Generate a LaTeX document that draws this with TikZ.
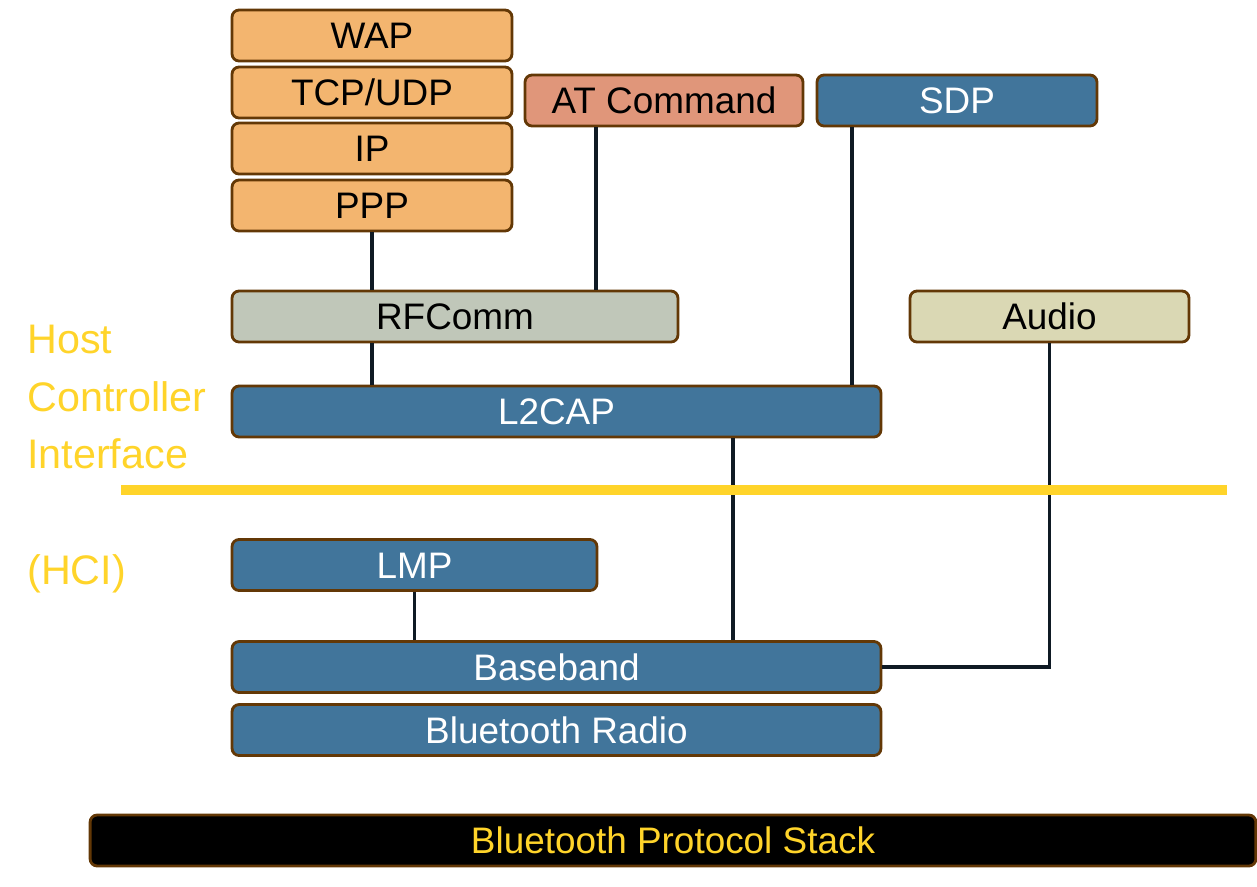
\documentclass[tikz,border=0pt]{standalone}
\usepackage{fontspec}
\setmainfont{Liberation Sans}
\definecolor{wapcol}{RGB}{243,181,111}
\definecolor{atcol}{RGB}{224,150,122}
\definecolor{bluecol}{RGB}{65,117,155}
\definecolor{rfcol}{RGB}{192,199,185}
\definecolor{audiocol}{RGB}{218,216,180}
\definecolor{layerborder}{RGB}{99,56,6}
\definecolor{linkcolor}{RGB}{15,26,36}
\definecolor{hciyellow}{RGB}{255,212,42}
\begin{document}
\begin{tikzpicture}[x=0.02cm, y=-0.02cm,
    every node/.style={font=\fontsize{21}{25}\selectfont},
    layer/.style={draw=layerborder, line width=1.6pt, rounded corners=4pt,
      minimum height=1.02cm, inner sep=0pt, text height=0.53cm, text depth=0pt},
    link/.style={draw=linkcolor, line width=2.2pt},
    sidelabel/.style={anchor=base west, inner sep=0pt, text=hciyellow, font=\fontsize{23.5}{28}\selectfont}]

        \useasboundingbox (0,0) rectangle (1257,886);

        % Upper stack
        \node[layer, fill=wapcol, minimum width=5.6cm] (wap) at (372,35.5) {WAP};
        \node[layer, fill=wapcol, minimum width=5.6cm] (tcpudp) at (372,92.5) {TCP/UDP};
        \node[layer, fill=wapcol, minimum width=5.6cm] (ip) at (372,148.5) {IP};
        \node[layer, fill=wapcol, minimum width=5.6cm] (ppp) at (372,205.5) {PPP};
        \node[layer, fill=atcol, minimum width=5.56cm] (atcmd) at (664,100.5) {AT Command};
        \node[layer, fill=bluecol, text=white, minimum width=5.6cm] (sdp) at (957,100.5) {SDP};

        % Middle
        \node[layer, fill=rfcol, minimum width=8.92cm] (rfcomm) at (455,316.5) {RFComm};
        \node[layer, fill=audiocol, minimum width=5.58cm] (audio) at (1049.5,316.5) {Audio};
        \node[layer, fill=bluecol, text=white, minimum width=12.98cm] (l2cap) at (556.5,411.5) {L2CAP};

        % Lower
        \node[layer, fill=bluecol, text=white, minimum width=7.3cm] (lmp) at (414.5,565) {LMP};
        \node[layer, fill=bluecol, text=white, minimum width=12.98cm] (baseband) at (556.5,667) {Baseband};
        \node[layer, fill=bluecol, text=white, minimum width=12.98cm] (radio) at (556.5,730) {Bluetooth Radio};

        % Title bar
        \node[layer, fill=black, text=hciyellow, minimum width=23.32cm] (stack) at (673,840.5) {Bluetooth Protocol Stack};

        % Links
        \draw[link] (ppp.south) -- (ppp.south |- rfcomm.north);
        \draw[link] ([xshift=-1.36cm]atcmd.south) -- ([xshift=-1.36cm]atcmd.south |- rfcomm.north);
        \draw[link] (rfcomm.south -| ppp.south) -- (l2cap.north -| ppp.south);
        \draw[link] ([xshift=-2.1cm]sdp.south) -- ([xshift=-2.1cm]sdp.south |- l2cap.north);
        \draw[link] ([xshift=3.53cm]l2cap.south) -- ([xshift=3.53cm]l2cap.south |- baseband.north);
        \draw[link] (lmp.south) -- (lmp.south |- baseband.north);
        \draw[link] (audio.south) |- (baseband.east);

        % HCI boundary
        \coordinate (hcil) at (121,490);
        \coordinate (hcir) at (1227,490);
        \draw[hciyellow, line width=0.2cm] (hcil) -- (hcir);

        \node[sidelabel] (host) at (27,353) {Host};
        \node[sidelabel] (controller) at (27,411) {Controller};
        \node[sidelabel] (interface) at (27,468) {Interface};
        \node[sidelabel] (hci) at (27,584) {(HCI)};

\end{tikzpicture}
\end{document}
